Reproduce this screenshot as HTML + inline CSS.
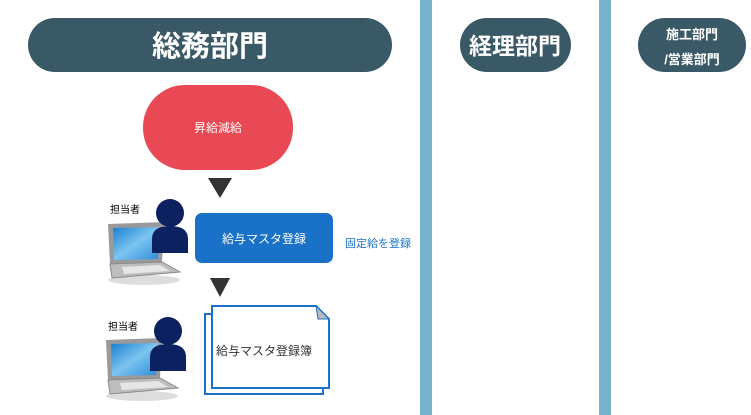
<!DOCTYPE html>
<html><head><meta charset="utf-8"><style>
body{margin:0;width:751px;height:415px;background:#fff;overflow:hidden;font-family:"Liberation Sans","Noto Sans CJK JP",sans-serif}
</style></head><body>
<svg width="751" height="415" xmlns="http://www.w3.org/2000/svg" style="position:absolute;left:0;top:0">
<defs>
<linearGradient id="scr" x1="0" y1="0" x2="1" y2="1"><stop offset="0" stop-color="#1a7fd0"/><stop offset="0.5" stop-color="#7cc4f0"/><stop offset="1" stop-color="#2a8ad8"/></linearGradient>
<g id="pc">
<ellipse cx="40" cy="58" rx="36" ry="5" fill="#ddd"/>
<polygon points="4,2 60,0 58,40 6,42" fill="#9a9a9a"/>
<polygon points="9,6 56,5 54,37 10,38" fill="url(#scr)"/>
<polygon points="6,42 58,40 76,50 8,56" fill="#bdbdbd" stroke="#8a8a8a"/>
<polygon points="18,45 56,43 66,49 20,52" fill="#e6e6e6"/>
</g>
<g id="person">
<circle cx="0" cy="0" r="14" fill="#0b2160"/>
<path d="M-18,40 V26 Q-18,13 0,13 Q18,13 18,26 V40 Z" fill="#0b2160"/>
</g>
</defs>
<rect x="420" y="0" width="12" height="415" fill="#75b2cc"/>
<rect x="599" y="0" width="12" height="415" fill="#75b2cc"/>
<rect x="28" y="18" width="364" height="54" rx="27" fill="#3a5966"/>
<text x="210" y="56" text-anchor="middle" font-size="29" font-weight="bold" fill="#fff">総務部門</text>
<rect x="460" y="18" width="111" height="54" rx="27" fill="#3a5966"/>
<text x="515" y="54" text-anchor="middle" font-size="23" font-weight="bold" fill="#fff">経理部門</text>
<rect x="638" y="18" width="108" height="54" rx="27" fill="#3a5966"/>
<text x="692" y="39" text-anchor="middle" font-size="13" font-weight="bold" fill="#fff">施工部門</text>
<text x="692" y="64" text-anchor="middle" font-size="13" font-weight="bold" fill="#fff">/営業部門</text>
<rect x="143" y="85" width="150" height="85" rx="42" fill="#e84954"/>
<text x="218" y="132" text-anchor="middle" font-size="12" fill="#fff">昇給減給</text>
<polygon points="208,178 232,178 220,198" fill="#333"/>
<rect x="195" y="213" width="138" height="50" rx="7" fill="#1a72c8"/>
<text x="264" y="243" text-anchor="middle" font-size="12" fill="#fff">給与マスタ登録</text>
<text x="345" y="247" font-size="11" fill="#1a72c8">固定給を登録</text>
<polygon points="210,278 230,278 220,297" fill="#333"/>
<rect x="205" y="314" width="118" height="80" fill="#fff" stroke="#1a72c8" stroke-width="2"/>
<path d="M212,306 H316 L329,319 V388 H212 Z" fill="#fff" stroke="#1a72c8" stroke-width="2"/>
<path d="M316,306 L329,319 H318 Z" fill="#bbb" stroke="#1a72c8" stroke-width="1"/>
<text x="216" y="355" font-size="12" fill="#333">給与マスタ登録簿</text>
<text x="110" y="213" font-size="10" fill="#000">担当者</text>
<use href="#pc" x="104" y="222"/>
<use href="#person" x="170" y="213"/>
<text x="108" y="330" font-size="10" fill="#000">担当者</text>
<use href="#pc" x="102" y="338"/>
<use href="#person" x="168" y="331"/>
</svg>
</body></html>
